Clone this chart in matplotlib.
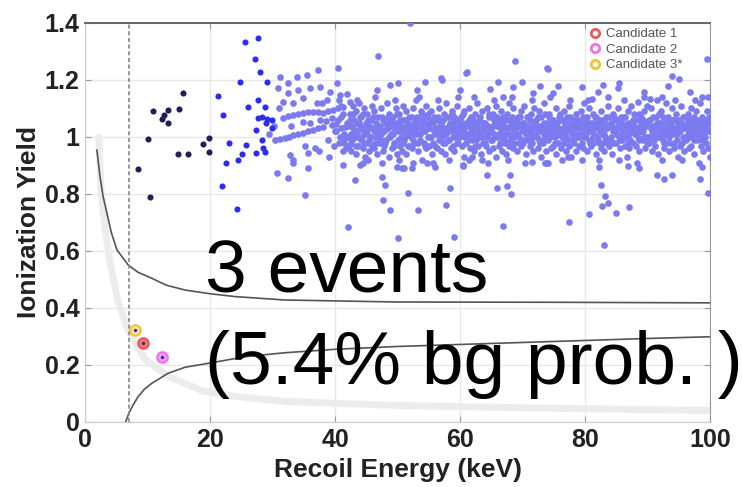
import matplotlib.pyplot as plt
from matplotlib.lines import Line2D
import numpy as np

# low energy events (dark) and 20-30 keV events (bright blue)
dark_pts = [(15.6, 1.153), (10.9, 1.092), (13.2, 1.095), (12.7, 1.077), (12.3, 1.062),
            (13.3, 1.050), (15.1, 1.098), (10.1, 0.992), (19.8, 0.995), (18.8, 0.975),
            (19.8, 0.946), (14.9, 0.939), (16.4, 0.940), (8.4, 0.887), (10.4, 0.791)]

bright_pts = [(24.8, 1.192), (21.2, 1.145), (26.0, 1.104), (22.0, 1.077), (23.0, 0.980),
              (25.7, 0.972), (25.1, 0.940), (24.5, 0.919), (22.6, 0.908), (21.9, 0.829),
              (25.6, 1.334), (24.3, 0.746), (27.7, 1.346), (27.2, 1.273), (28.0, 1.229),
              (29.1, 1.194), (27.6, 1.130), (28.8, 1.104), (28.3, 1.070), (29.1, 1.063),
              (29.9, 1.060), (27.7, 1.067), (29.9, 1.033), (27.4, 1.025), (28.3, 0.989),
              (28.4, 0.960), (27.4, 0.945), (28.8, 0.948), (28.9, 1.050)]

# electron recoil band, 30-42 keV
trans_pts = [(30.9, 1.171), (31.2, 1.212), (31.7, 1.124), (32.5, 1.191), (32.5, 1.153),
             (33.3, 1.118), (33.9, 1.212), (34.1, 1.165), (34.9, 1.136), (35.5, 1.218),
             (36.0, 1.171), (37.1, 1.118), (37.6, 1.177), (38.7, 1.130), (39.2, 1.159),
             (40.3, 1.188), (40.8, 1.147), (42.4, 1.124),
             (31.7, 1.065), (32.5, 1.072), (33.3, 1.077), (34.1, 1.082), (34.9, 1.085),
             (35.7, 1.087), (36.5, 1.089), (37.3, 1.086), (38.1, 1.083), (38.9, 1.090),
             (39.7, 1.095), (40.5, 1.100), (41.3, 1.106),
             (33.0, 1.040), (34.9, 1.054), (36.0, 1.050), (37.6, 1.060), (38.5, 1.055),
             (39.5, 1.065), (40.2, 1.045), (41.0, 1.070), (41.6, 1.035),
             (30.4, 0.989), (31.2, 0.992), (32.0, 0.995), (32.7, 1.000), (33.3, 1.007),
             (34.1, 1.011), (34.9, 1.015), (35.7, 1.020), (36.5, 1.025), (37.3, 1.030),
             (38.1, 1.036), (39.5, 1.042), (40.0, 1.020), (40.8, 1.000), (41.5, 0.980),
             (29.5, 1.010), (30.2, 1.040), (31.0, 1.100), (35.2, 0.970), (36.8, 0.960),
             (38.8, 0.990), (39.8, 0.970), (41.2, 0.950), (40.6, 1.130), (41.9, 1.150),
             (37.9, 1.120), (32.8, 0.937), (33.3, 0.919), (35.7, 0.943), (35.7, 0.890),
             (30.7, 0.873), (32.5, 0.855), (35.2, 0.796), (33.3, 0.910), (41.3, 0.902),
             (43.2, 0.849), (42.1, 0.685), (37.5, 0.950), (39.0, 0.930),
             (40.2, 1.02), (40.5, 1.06), (40.7, 0.98), (41.0, 1.03), (41.3, 1.08),
             (41.5, 1.01), (41.7, 0.96), (41.9, 1.05), (40.9, 1.11), (41.4, 0.99)]

# electron recoil band, 42-100 keV (dense core)
core_pts = [
    (42.1, 1.04), (42.2, 0.97), (42.4, 1.08), (42.5, 1.01), (42.6, 0.95), (42.8, 1.11), (42.9, 1.03), (42.7, 0.99),
    (43.0, 1.06), (43.2, 1.00), (43.3, 0.94), (43.4, 1.09), (43.6, 1.02), (43.7, 0.97), (43.8, 1.05), (43.9, 1.12),
    (44.1, 0.99), (44.2, 1.07), (44.3, 1.03), (44.5, 0.96), (44.6, 1.10), (44.7, 1.01), (44.8, 0.93), (44.9, 1.05),
    (45.0, 1.02), (45.1, 1.08), (45.3, 0.98), (45.4, 1.04), (45.5, 0.95), (45.7, 1.06), (45.8, 1.00), (45.9, 1.11),
    (46.1, 1.03), (46.2, 0.96), (46.3, 1.09), (46.5, 1.00), (46.6, 1.05), (46.7, 0.94), (46.8, 1.07), (46.9, 1.01),
    (47.0, 0.98), (47.2, 1.04), (47.3, 1.10), (47.4, 1.01), (47.6, 0.95), (47.7, 1.06), (47.8, 1.02), (47.9, 0.97),
    (48.1, 1.05), (48.2, 0.99), (48.3, 1.12), (48.5, 1.03), (48.6, 0.93), (48.7, 1.08), (48.8, 1.00), (48.9, 1.04),
    (49.0, 1.01), (49.1, 0.96), (49.3, 1.07), (49.4, 1.03), (49.5, 0.98), (49.7, 1.10), (49.8, 1.05), (49.9, 0.94),
    (50.1, 1.02), (50.2, 1.08), (50.4, 0.97), (50.5, 1.04), (50.6, 1.00), (50.7, 0.95), (50.8, 1.11), (50.9, 1.06),
    (51.0, 0.99), (51.2, 1.03), (51.3, 0.94), (51.4, 1.09), (51.5, 1.01), (51.7, 1.05), (51.8, 0.97), (51.9, 1.07),
    (52.1, 1.04), (52.2, 1.00), (52.3, 0.96), (52.5, 1.10), (52.6, 1.02), (52.7, 0.98), (52.8, 1.06), (52.9, 1.13),
    (53.0, 1.01), (53.1, 1.07), (53.3, 0.95), (53.4, 1.03), (53.6, 0.99), (53.7, 1.09), (53.8, 1.04), (53.9, 0.92),
    (54.1, 1.06), (54.2, 0.98), (54.4, 1.02), (54.5, 1.11), (54.6, 0.96), (54.7, 1.04), (54.8, 1.00), (54.9, 1.08),
    (55.0, 0.97), (55.1, 1.03), (55.3, 1.09), (55.4, 1.00), (55.5, 0.94), (55.7, 1.05), (55.8, 1.02), (55.9, 1.07),
    (56.1, 1.01), (56.2, 1.06), (56.3, 0.96), (56.5, 1.03), (56.6, 1.10), (56.7, 0.99), (56.8, 1.04), (56.9, 0.95),
    (57.0, 1.05), (57.2, 0.98), (57.3, 1.02), (57.4, 1.08), (57.6, 0.94), (57.7, 1.01), (57.8, 1.12), (57.9, 1.03),
    (58.1, 0.99), (58.2, 1.04), (58.4, 1.07), (58.5, 0.96), (58.6, 1.02), (58.7, 1.09), (58.8, 0.97), (58.9, 1.05),
    (59.0, 1.03), (59.1, 0.95), (59.3, 1.06), (59.4, 1.00), (59.5, 1.11), (59.7, 0.98), (59.8, 1.04), (59.9, 1.01),
    (60.1, 1.07), (60.2, 1.02), (60.3, 0.97), (60.5, 1.04), (60.6, 0.93), (60.7, 1.09), (60.8, 1.00), (60.9, 1.05),
    (61.0, 0.98), (61.2, 1.05), (61.3, 1.01), (61.4, 1.10), (61.6, 0.96), (61.7, 1.03), (61.8, 1.07), (61.9, 0.99),
    (62.1, 1.02), (62.2, 0.95), (62.4, 1.08), (62.5, 1.04), (62.6, 0.99), (62.7, 1.12), (62.8, 1.01), (62.9, 0.97),
    (63.0, 1.06), (63.1, 1.00), (63.3, 0.94), (63.4, 1.03), (63.5, 1.09), (63.7, 0.98), (63.8, 1.05), (63.9, 1.02),
    (64.1, 0.97), (64.2, 1.04), (64.3, 1.10), (64.5, 1.01), (64.6, 0.95), (64.7, 1.07), (64.8, 1.02), (64.9, 0.99),
    (65.0, 1.03), (65.2, 1.08), (65.3, 0.96), (65.4, 1.01), (65.6, 1.05), (65.7, 0.93), (65.8, 1.11), (65.9, 1.04),
    (66.1, 1.00), (66.2, 0.97), (66.4, 1.06), (66.5, 1.02), (66.6, 1.09), (66.7, 0.95), (66.8, 1.03), (66.9, 1.07),
    (67.0, 0.99), (67.1, 1.04), (67.3, 1.01), (67.4, 0.94), (67.5, 1.08), (67.7, 1.03), (67.8, 0.97), (67.9, 1.12),
    (68.1, 1.05), (68.2, 1.00), (68.4, 0.96), (68.5, 1.10), (68.6, 1.02), (68.7, 0.98), (68.8, 1.06), (68.9, 1.01),
    (69.0, 1.03), (69.1, 0.95), (69.3, 1.07), (69.4, 1.00), (69.6, 1.04), (69.7, 0.97), (69.8, 1.09), (69.9, 1.02),
    (70.1, 0.98), (70.2, 1.05), (70.3, 1.11), (70.5, 1.01), (70.6, 0.94), (70.7, 1.03), (70.8, 1.07), (70.9, 0.99),
    (71.0, 1.04), (71.2, 0.97), (71.3, 1.02), (71.4, 1.08), (71.6, 1.00), (71.7, 0.95), (71.8, 1.05), (71.9, 1.10),
    (72.1, 1.01), (72.2, 1.06), (72.4, 0.96), (72.5, 1.03), (72.6, 0.99), (72.7, 1.09), (72.8, 1.04), (72.9, 0.93),
    (73.0, 1.07), (73.1, 1.02), (73.3, 0.98), (73.4, 1.05), (73.5, 1.12), (73.7, 1.00), (73.8, 0.95), (73.9, 1.03),
    (74.1, 0.99), (74.2, 1.04), (74.3, 1.08), (74.5, 0.96), (74.6, 1.01), (74.7, 1.06), (74.8, 1.02), (74.9, 0.97),
    (75.0, 1.05), (75.2, 1.00), (75.3, 0.94), (75.4, 1.10), (75.6, 1.03), (75.7, 0.98), (75.8, 1.07), (75.9, 1.01),
    (76.1, 1.02), (76.2, 0.96), (76.4, 1.06), (76.5, 1.01), (76.6, 1.09), (76.7, 0.99), (76.8, 1.04), (76.9, 0.95),
    (77.0, 1.00), (77.1, 1.07), (77.3, 1.03), (77.4, 0.97), (77.5, 1.11), (77.7, 1.02), (77.8, 0.93), (77.9, 1.05),
    (78.1, 1.04), (78.2, 0.98), (78.4, 1.01), (78.5, 1.08), (78.6, 0.95), (78.7, 1.03), (78.8, 1.06), (78.9, 1.00),
    (79.0, 0.97), (79.1, 1.03), (79.3, 1.09), (79.4, 1.00), (79.6, 1.05), (79.7, 0.96), (79.8, 1.02), (79.9, 1.12),
    (80.1, 1.06), (80.2, 1.01), (80.3, 0.95), (80.5, 1.04), (80.6, 0.99), (80.7, 1.10), (80.8, 1.02), (80.9, 0.97),
    (81.0, 1.03), (81.2, 1.08), (81.3, 0.98), (81.4, 1.01), (81.6, 1.05), (81.7, 0.94), (81.8, 1.07), (81.9, 1.00),
    (82.1, 0.99), (82.2, 1.05), (82.4, 1.02), (82.5, 0.96), (82.6, 1.09), (82.7, 1.03), (82.8, 0.98), (82.9, 1.06),
    (83.0, 1.01), (83.1, 0.95), (83.3, 1.07), (83.4, 1.03), (83.5, 0.99), (83.7, 1.11), (83.8, 1.04), (83.9, 0.97),
    (84.1, 1.05), (84.2, 1.00), (84.3, 0.94), (84.5, 1.08), (84.6, 1.02), (84.7, 0.98), (84.8, 1.06), (84.9, 1.01),
    (85.0, 0.98), (85.2, 1.04), (85.3, 1.10), (85.4, 1.00), (85.6, 0.96), (85.7, 1.03), (85.8, 1.07), (85.9, 0.99),
    (86.1, 1.02), (86.2, 1.07), (86.4, 0.97), (86.5, 1.04), (86.6, 1.00), (86.7, 0.93), (86.8, 1.09), (86.9, 1.05),
    (87.0, 1.01), (87.1, 0.96), (87.3, 1.05), (87.4, 1.11), (87.5, 1.02), (87.7, 0.98), (87.8, 1.04), (87.9, 1.08),
    (88.1, 0.97), (88.2, 1.03), (88.4, 1.06), (88.5, 1.00), (88.6, 0.95), (88.7, 1.08), (88.8, 1.02), (88.9, 1.04),
    (89.0, 1.05), (89.2, 0.99), (89.3, 1.02), (89.4, 1.09), (89.6, 0.96), (89.7, 1.04), (89.8, 1.00), (89.9, 1.11),
    (90.1, 1.00), (90.2, 1.06), (90.3, 0.98), (90.5, 1.03), (90.6, 1.10), (90.7, 0.95), (90.8, 1.04), (90.9, 1.01),
    (91.0, 1.04), (91.2, 0.97), (91.3, 1.07), (91.4, 1.02), (91.6, 0.94), (91.7, 1.05), (91.8, 1.00), (91.9, 1.08),
    (92.1, 1.02), (92.2, 1.09), (92.4, 0.99), (92.5, 1.04), (92.6, 0.96), (92.7, 1.01), (92.8, 1.06), (92.9, 1.12),
    (93.0, 0.98), (93.1, 1.03), (93.3, 1.07), (93.4, 1.00), (93.5, 0.95), (93.7, 1.05), (93.8, 1.02), (93.9, 1.10),
    (94.1, 1.06), (94.2, 1.01), (94.3, 0.96), (94.5, 1.03), (94.6, 1.08), (94.7, 0.99), (94.8, 1.04), (94.9, 0.93),
    (95.0, 1.02), (95.2, 0.97), (95.3, 1.05), (95.4, 1.11), (95.6, 1.00), (95.7, 1.04), (95.8, 0.95), (95.9, 1.07),
    (96.1, 1.03), (96.2, 0.99), (96.4, 1.08), (96.5, 1.01), (96.6, 0.96), (96.7, 1.06), (96.8, 1.02), (96.9, 1.10),
    (97.0, 0.97), (97.1, 1.04), (97.3, 1.01), (97.4, 1.07), (97.5, 0.94), (97.7, 1.03), (97.8, 1.09), (97.9, 0.99),
    (98.1, 1.05), (98.2, 1.00), (98.4, 1.12), (98.5, 0.97), (98.6, 1.03), (98.7, 1.07), (98.8, 0.95), (98.9, 1.02),
    (99.0, 1.01), (99.1, 1.06), (99.3, 0.98), (99.4, 1.04), (99.5, 1.09), (99.7, 0.96), (99.8, 1.02), (99.9, 1.07),
]

# second, denser layer of the core (0.97-1.08)
core2_pts = [
    (42.05, 1.00), (42.35, 1.06), (42.55, 0.98), (42.75, 1.04), (42.95, 1.08),
    (43.15, 1.02), (43.35, 0.97), (43.5, 1.05), (43.75, 1.00), (43.95, 1.07),
    (44.05, 1.04), (44.25, 1.00), (44.45, 1.08), (44.65, 0.98), (44.85, 1.03),
    (45.15, 1.01), (45.25, 1.06), (45.45, 0.99), (45.65, 1.03), (45.95, 0.97),
    (46.05, 1.07), (46.25, 1.02), (46.45, 0.98), (46.7, 1.04), (46.95, 1.00),
    (47.1, 1.03), (47.35, 0.99), (47.5, 1.07), (47.75, 1.02), (47.95, 1.05),
    (48.05, 0.98), (48.25, 1.03), (48.45, 1.07), (48.65, 1.00), (48.95, 1.06),
    (49.05, 1.05), (49.25, 1.01), (49.45, 0.97), (49.6, 1.04), (49.95, 1.08),
    (50.05, 0.99), (50.3, 1.04), (50.45, 1.06), (50.65, 1.02), (50.85, 0.98),
    (51.1, 1.06), (51.25, 1.00), (51.45, 1.04), (51.6, 0.97), (51.85, 1.02),
    (52.05, 1.01), (52.25, 1.07), (52.45, 0.99), (52.65, 1.05), (52.95, 1.03),
    (53.15, 1.04), (53.25, 0.98), (53.5, 1.06), (53.65, 1.01), (53.85, 1.08),
    (54.05, 1.02), (54.3, 1.05), (54.45, 0.97), (54.65, 1.07), (54.85, 1.03),
    (55.05, 1.05), (55.25, 1.00), (55.45, 1.06), (55.6, 0.98), (55.95, 1.03),
    (56.05, 0.97), (56.25, 1.03), (56.45, 1.07), (56.7, 1.01), (56.95, 1.05),
    (57.1, 1.00), (57.25, 1.06), (57.5, 1.03), (57.65, 0.98), (57.85, 1.07),
    (58.05, 1.03), (58.3, 0.99), (58.45, 1.05), (58.65, 1.08), (58.95, 1.00),
    (59.05, 1.07), (59.25, 1.02), (59.45, 0.98), (59.6, 1.04), (59.85, 1.06),
    (60.05, 1.00), (60.25, 1.05), (60.45, 1.08), (60.65, 1.02), (60.95, 0.98),
    (61.1, 1.04), (61.25, 0.99), (61.5, 1.06), (61.65, 1.01), (61.95, 1.05),
    (62.05, 1.06), (62.3, 1.01), (62.45, 0.97), (62.65, 1.05), (62.85, 1.03),
    (63.15, 1.02), (63.25, 1.07), (63.45, 1.00), (63.6, 1.05), (63.95, 0.98),
    (64.05, 1.05), (64.25, 1.00), (64.45, 1.04), (64.65, 1.08), (64.95, 1.02),
    (65.1, 0.99), (65.25, 1.04), (65.5, 1.06), (65.65, 1.00), (65.95, 1.07),
    (66.05, 1.04), (66.3, 1.01), (66.45, 0.98), (66.65, 1.05), (66.85, 1.00),
    (67.05, 1.06), (67.25, 0.98), (67.45, 1.03), (67.6, 1.06), (67.85, 1.01),
    (68.05, 0.99), (68.25, 1.07), (68.45, 1.03), (68.65, 1.00), (68.95, 1.04),
    (69.05, 1.01), (69.25, 1.05), (69.45, 0.98), (69.65, 1.07), (69.95, 1.03),
    (70.05, 1.05), (70.25, 0.99), (70.45, 1.04), (70.65, 1.07), (70.95, 1.02),
    (71.1, 1.01), (71.25, 1.06), (71.5, 0.98), (71.65, 1.03), (71.95, 1.05),
    (72.05, 1.04), (72.3, 1.00), (72.45, 1.07), (72.65, 1.02), (72.85, 0.98),
    (73.15, 0.99), (73.25, 1.04), (73.45, 1.01), (73.6, 1.08), (73.95, 1.05),
    (74.05, 1.02), (74.25, 1.07), (74.45, 1.00), (74.65, 1.04), (74.95, 1.06),
    (75.1, 1.03), (75.25, 0.98), (75.5, 1.05), (75.65, 1.01), (75.95, 1.08),
    (76.05, 1.06), (76.3, 1.00), (76.45, 1.03), (76.65, 0.98), (76.85, 1.05),
    (77.05, 1.02), (77.25, 1.05), (77.45, 0.99), (77.6, 1.07), (77.85, 1.01),
    (78.05, 0.99), (78.25, 1.03), (78.45, 1.06), (78.65, 1.00), (78.95, 1.04),
    (79.05, 1.05), (79.25, 1.01), (79.45, 0.98), (79.65, 1.07), (79.95, 1.03),
    (80.05, 1.00), (80.25, 1.07), (80.45, 1.02), (80.65, 1.05), (80.85, 0.98),
    (81.1, 1.05), (81.25, 1.00), (81.5, 1.03), (81.65, 1.07), (81.95, 1.04),
    (82.05, 1.03), (82.3, 0.98), (82.45, 1.06), (82.65, 1.01), (82.95, 1.04),
    (83.15, 1.05), (83.25, 1.00), (83.45, 1.03), (83.6, 0.98), (83.85, 1.07),
    (84.05, 0.99), (84.25, 1.04), (84.45, 1.02), (84.65, 1.07), (84.95, 1.03),
    (85.1, 1.06), (85.25, 1.01), (85.5, 1.04), (85.65, 0.99), (85.95, 1.05),
    (86.05, 1.00), (86.25, 1.04), (86.45, 1.07), (86.65, 1.02), (86.85, 0.98),
    (87.05, 1.04), (87.25, 0.99), (87.45, 1.03), (87.6, 1.06), (87.95, 1.01),
    (88.05, 1.06), (88.3, 1.01), (88.45, 1.03), (88.65, 0.99), (88.95, 1.07),
    (89.1, 1.02), (89.25, 1.06), (89.5, 1.00), (89.65, 1.05), (89.95, 0.98),
    (90.05, 1.04), (90.25, 1.00), (90.45, 1.06), (90.65, 1.02), (90.95, 1.07),
    (91.1, 0.99), (91.25, 1.03), (91.5, 1.05), (91.65, 1.00), (91.95, 1.04),
    (92.05, 1.05), (92.3, 1.01), (92.45, 1.07), (92.65, 0.98), (92.85, 1.03),
    (93.15, 1.01), (93.25, 1.05), (93.45, 1.03), (93.6, 0.98), (93.95, 1.06),
    (94.05, 1.03), (94.25, 0.98), (94.45, 1.06), (94.65, 1.01), (94.95, 1.05),
    (95.1, 1.06), (95.25, 1.02), (95.5, 0.98), (95.65, 1.07), (95.95, 1.03),
    (96.05, 1.00), (96.3, 1.05), (96.45, 1.03), (96.65, 1.00), (96.85, 1.06),
    (97.05, 1.06), (97.25, 1.02), (97.45, 0.99), (97.6, 1.05), (97.95, 1.03),
    (98.05, 1.01), (98.3, 1.06), (98.45, 1.03), (98.65, 0.99), (98.95, 1.05),
    (99.05, 1.04), (99.25, 1.00), (99.45, 1.06), (99.65, 1.02), (99.95, 1.05),
]

halo_pts = [(43.5, 1.13), (44.4, 0.91), (46.4, 1.14), (47.5, 0.91), (49.6, 1.13), (50.3, 0.92),
            (52.4, 0.91), (53.5, 1.14), (55.6, 0.91), (56.4, 1.13), (58.3, 0.92), (59.6, 1.14),
            (61.5, 0.92), (62.3, 1.14), (64.4, 0.91), (65.5, 1.13), (67.6, 0.92), (68.3, 1.14),
            (70.4, 0.91), (71.5, 1.13), (73.6, 0.91), (74.4, 1.14), (76.3, 0.92), (77.6, 1.13),
            (79.5, 0.92), (80.4, 1.13), (82.3, 0.92), (83.6, 1.14), (85.5, 0.92), (86.3, 1.13),
            (88.3, 0.91), (89.5, 1.14), (91.5, 1.13), (92.3, 0.92), (94.4, 1.13), (95.5, 0.92),
            (97.6, 1.13), (98.3, 0.91), (99.6, 1.14), (100.0, 0.93)]

outlier_pts = [(52.0, 1.400), (46.9, 1.284), (40.5, 1.241), (37.3, 1.235), (61.1, 1.229),
               (66.1, 1.194), (57.1, 1.200), (54.4, 1.194), (50.1, 1.188), (48.8, 1.182),
               (53.1, 1.165), (60.0, 1.165), (64.8, 1.167), (68.8, 1.267), (61.0, 1.226),
               (73.9, 1.241), (56.9, 1.206), (69.9, 1.194), (72.8, 1.179), (68.5, 1.177),
               (71.6, 1.155), (74.9, 1.153), (74.1, 1.237), (99.5, 1.273), (93.9, 1.214),
               (95.1, 1.202), (85.3, 1.171), (79.5, 1.174), (82.1, 1.159), (75.7, 1.179),
               (66.9, 1.139), (81.1, 1.132), (89.4, 1.159), (92.3, 1.141), (96.8, 1.159),
               (98.7, 1.141), (90.4, 1.132), (82.9, 1.182), (85.5, 1.188), (93.3, 1.179),
               (88.4, 1.124), (46.7, 1.165),
               (51.7, 0.805), (53.2, 0.744), (58.4, 0.820), (57.8, 0.761), (59.0, 0.648),
               (48.0, 0.832), (47.5, 0.861), (47.6, 0.779), (48.8, 0.744), (50.1, 0.645),
               (49.9, 0.896), (51.0, 0.890), (52.3, 0.890), (54.7, 0.910), (56.0, 0.896),
               (60.5, 0.902), (61.9, 0.931), (63.5, 0.919), (64.3, 0.867), (65.9, 0.822),
               (67.5, 0.828), (68.0, 0.867), (68.1, 0.800), (66.8, 0.689), (71.5, 0.913),
               (73.9, 0.907), (50.7, 0.890), (60.4, 0.898), (77.3, 0.931), (74.1, 0.908),
               (77.4, 0.700), (80.6, 0.729), (82.3, 0.894), (82.5, 0.832), (83.2, 0.793),
               (83.7, 0.767), (82.7, 0.758), (85.0, 0.732), (87.1, 0.755), (83.0, 0.621),
               (86.9, 0.898), (88.7, 0.890), (91.5, 0.867), (92.6, 0.852), (93.9, 0.867),
               (98.4, 0.852), (98.7, 0.894), (99.7, 0.803), (45.2, 0.920), (44.0, 0.900)]

# candidate events
cand_x = [9.33, 12.27, 8.0]
cand_y = [0.276, 0.229, 0.323]
cand_labels = ["Candidate 1", "Candidate 2", "Candidate 3*"]
cand_edge = ["#ee5a5a", "#f070f0", "#f2c232"]
cand_face = ["#f27a72", "#f5a0f5", "#fbe6a8"]

# yield band boundaries and nuclear recoil band centre
upper_x = [1.9, 2.4, 2.9, 3.5, 4.2, 5.1, 6.9, 8.5, 10.7, 13.0, 16.0, 20.0, 24.0, 32.0, 50.0, 75.0, 100.0]
upper_y = [0.954, 0.86, 0.79, 0.733, 0.665, 0.604, 0.551, 0.525, 0.504, 0.48, 0.463, 0.45, 0.44, 0.428, 0.421, 0.42, 0.418]
lower_x = [6.5, 7.0, 7.7, 8.5, 9.5, 10.7, 13.3, 16.0, 20.3, 25.6, 32.0, 40.0, 50.0, 60.0, 70.0, 80.0, 90.0, 100.0]
lower_y = [0.0, 0.03, 0.06, 0.089, 0.115, 0.136, 0.171, 0.192, 0.208, 0.229, 0.243, 0.255, 0.265, 0.272, 0.279, 0.286, 0.293, 0.299]
band_x = [2.2, 2.6, 3.2, 4.0, 5.3, 6.9, 9.6, 13.3, 18.7, 24.0, 32.0, 50.0, 75.0, 100.0]
band_y = [1.0, 0.80, 0.68, 0.56, 0.42, 0.32, 0.22, 0.16, 0.11, 0.09, 0.072, 0.058, 0.048, 0.04]
threshold = 7.0

xticks = [0, 20, 40, 60, 80, 100]
yticks = [0, 0.2, 0.4, 0.6, 0.8, 1.0, 1.2, 1.4]
ytick_labels = ["0", "0.2", "0.4", "0.6", "0.8", "1", "1.2", "1.4"]

plt.rcParams["font.family"] = ["Liberation Sans", "DejaVu Sans"]

fig = plt.figure(figsize=(7.42, 4.87), dpi=100)
ax = fig.add_axes([0.1146, 0.1335, 0.8423, 0.8193])

ax.set_xlim(0, 100)
ax.set_ylim(0, 1.4)
ax.set_xticks(xticks)
ax.set_yticks(yticks)
ax.set_yticklabels(ytick_labels)
ax.grid(True, color="#e8e8e8", lw=1.0, zorder=0)
ax.set_axisbelow(True)
ax.tick_params(direction="in", length=4, color="#999999", top=True, right=True,
               labelsize=18, pad=4)
for lab in ax.get_xticklabels() + ax.get_yticklabels():
    lab.set_fontweight("bold")
    lab.set_color("#222222")

for side in ["left", "bottom"]:
    ax.spines[side].set_color("#cccccc")
ax.spines["top"].set_color("#666666")
ax.spines["top"].set_linewidth(1.4)
ax.spines["right"].set_color("#999999")

# bands
ax.plot(band_x, band_y, color="#ececec", lw=5, solid_capstyle="round", zorder=1)
ax.plot(upper_x, upper_y, color="#555555", lw=1.2, zorder=2)
ax.plot(lower_x, lower_y, color="#555555", lw=1.2, zorder=2)
ax.axvline(threshold, color="#888888", lw=1.2, ls=(0, (2.5, 1.5)), zorder=2)

# events
light = np.array(trans_pts + core_pts + core2_pts + halo_pts + outlier_pts)
ax.plot(light[:, 0], light[:, 1], "o", ms=4.8, mfc="#7b7bef", mec="none", zorder=3)
bright = np.array(bright_pts)
ax.plot(bright[:, 0], bright[:, 1], "o", ms=4.4, mfc="#2b2bf2", mec="none", zorder=4)
dark = np.array(dark_pts)
ax.plot(dark[:, 0], dark[:, 1], "o", ms=4.4, mfc="#1e1e5c", mec="none", zorder=4)

handles = []
for x, y, lab, ec, fc in zip(cand_x, cand_y, cand_labels, cand_edge, cand_face):
    ax.plot(x, y, "o", ms=7.5, mfc=fc, mec=ec, mew=1.6, zorder=5)
    ax.plot(x, y, "o", ms=2.4, mfc="#2a2a90", mec="none", zorder=6)
    handles.append(Line2D([], [], ls="none", marker="o", ms=6, mfc="none", mec=ec, mew=2, label=lab))

leg = ax.legend(handles=handles, loc="upper left", bbox_to_anchor=(0.8075, 0.987),
                frameon=False, fontsize=9.5, handlelength=0.8, handletextpad=0.4,
                labelspacing=0.25, borderpad=0, borderaxespad=0)
for t in leg.get_texts():
    t.set_color("#555555")

ax.set_xlabel("Recoil Energy (keV)", fontsize=19, fontweight="bold", color="#222222")
ax.set_ylabel("Ionization Yield", fontsize=19, fontweight="bold", color="#222222")
ax.xaxis.set_label_coords(0.5, -0.09)
ax.yaxis.set_label_coords(-0.07, 0.5)

ax.text(19.2, 0.456, "3 events", fontsize=54, color="black", ha="left",
        va="baseline", clip_on=False, zorder=7)
ax.text(19.2, 0.133, "(5.4% bg prob. )", fontsize=54, color="black", ha="left",
        va="baseline", clip_on=False, zorder=7)

fig.savefig("out.png", dpi=100)
